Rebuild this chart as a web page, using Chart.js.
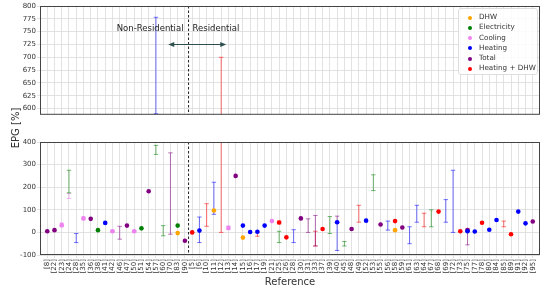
<!DOCTYPE html>
<html lang="en">
<head>
<meta charset="UTF-8">
<title>EPG by reference</title>
<script src="https://cdn.jsdelivr.net/npm/chart.js"></script>
<style>
  body { margin: 0; background: #fff; font-family: "DejaVu Sans", sans-serif; }
  #wrap { position: relative; width: 550px; height: 288px; overflow: hidden; }
  #topBox { position: absolute; left: 0; top: 0; width: 550px; height: 120px; }
  #botBox { position: absolute; left: 0; top: 120px; width: 550px; height: 168px; }
  #ytitle { position: absolute; left: -16px; top: 122px; width: 64px; text-align: center;
            font-size: 10px; line-height: 12px; color: #333; transform: rotate(-90deg); }
  #legend { position: absolute; left: 458px; top: 8px; width: 80px; height: 67px;
            border: 1px solid #ddd; border-radius: 3px; background: rgba(255,255,255,0.85);
            font-size: 7.2px; color: #333; box-sizing: border-box; padding-top: 3px; }
  #legend div { height: 10.3px; line-height: 10.3px; padding-left: 20px; position: relative; white-space: nowrap; }
  #legend span { position: absolute; left: 9px; top: 3.5px; width: 4px; height: 4px; border-radius: 50%; }
</style>
</head>
<body>
<div id="wrap">
  <div id="topBox"><canvas id="topChart"></canvas></div>
  <div id="botBox"><canvas id="botChart"></canvas></div>
  <div id="ytitle">EPG [%]</div>
  <div id="legend"></div>
</div>
<script>
// categories (first 20 non-residential, rest residential)
const refs = ['[8]', '[22]', '[23]', '[24]', '[28]', '[35]', '[36]', '[38]', '[41]', '[42]',
  '[46]', '[47]', '[50]', '[51]', '[54]', '[57]', '[60]', '[70]', '[83]', '[90]',
  '[5]', '[6]', '[10]', '[11]', '[12]', '[13]', '[14]', '[15]', '[16]', '[17]', '[19]', '[21]',
  '[25]', '[26]', '[28]', '[30]', '[31]', '[33]', '[37]', '[39]', '[40]', '[45]', '[48]', '[49]',
  '[52]', '[53]', '[55]', '[56]', '[58]', '[59]', '[61]', '[63]', '[64]', '[67]', '[68]', '[69]',
  '[72]', '[73]', '[75]', '[77]', '[78]', '[80]', '[84]', '[85]', '[89]', '[91]', '[92]', '[95]'];

// [category index, value]  and  [category index, low, high]
const dhwPoints = [[18, -3], [23, 97], [27, -23], [48, 10]];
const dhwRanges = [];
const elecPoints = [[7, 10], [13, 18], [18, 30]];
const elecRanges = [[3, 175, 275], [15, 345, 385], [16, -15, 30], [32, -45, 5], [39, -5, 70],
  [41, -60, -40], [45, 185, 255], [53, 25, 100]];
const coolPoints = [[2, 32], [5, 62], [9, 5], [12, 5], [25, 20], [31, 50]];
const coolRanges = [[2, 25, 42], [3, 150, 172], [5, 56, 68], [9, 0, 10], [12, 0, 8], [25, 12, 28]];
const heatPoints = [[8, 42], [21, 8], [27, 30], [28, 2], [29, 3], [30, 30], [40, 45], [44, 52],
  [58, 5], [59, 4], [61, 12], [62, 55], [65, 92], [66, 40]];
const heatRanges = [[4, -45, -5], [15, 590, 778], [21, -45, 68], [23, 80, 222], [34, -45, 12],
  [40, -80, 42], [47, 10, 50], [50, -50, 25], [51, 45, 120], [55, 45, 145], [56, 0, 275]];
const totalPoints = [[0, 5], [1, 10], [6, 60], [11, 30], [14, 182], [19, -37], [26, 250],
  [35, 62], [42, 15], [46, 35], [49, 22], [58, 10], [67, 48]];
const totalRanges = [[10, -30, 27], [17, -8, 352], [36, 0, 60], [37, -60, 75], [40, 45, 72], [58, -55, 15]];
const hdPoints = [[20, 0], [32, 44], [33, -22], [38, 15], [48, 50], [54, 92], [57, 5], [60, 43], [64, -8]];
const hdRanges = [[22, 27, 127], [24, 0, 700], [29, -17, 0], [32, 38, 50], [37, -60, 5],
  [43, 45, 120], [52, 25, 85], [63, 25, 50]];

const topTicks = [600, 612.5, 625, 637.5, 650, 662.5, 675, 687.5, 700, 712.5, 725, 737.5, 750, 762.5, 775, 787.5, 800];
const splitAt = 19.5;

const series = [
  { name: 'DHW', rgb: '255,165,0', points: dhwPoints, ranges: dhwRanges },
  { name: 'Electricity', rgb: '0,128,0', points: elecPoints, ranges: elecRanges },
  { name: 'Cooling', rgb: '238,130,238', points: coolPoints, ranges: coolRanges },
  { name: 'Heating', rgb: '0,0,255', points: heatPoints, ranges: heatRanges },
  { name: 'Total', rgb: '128,0,128', points: totalPoints, ranges: totalRanges },
  { name: 'Heating + DHW', rgb: '255,0,0', points: hdPoints, ranges: hdRanges }
];

// legend (html)
document.getElementById('legend').innerHTML = series.map(s =>
  `<div><span style="background:rgb(${s.rgb})"></span>${s.name}</div>`).join('');

function makeDatasets() {
  const out = [];
  series.forEach(s => {
    const bars = [];
    s.ranges.forEach(([i, lo, hi]) => bars.push({ x: i, y: lo }, { x: i, y: hi }, { x: i, y: null }));
    out.push({
      type: 'line', label: s.name + ' range', data: bars, order: 2,
      borderColor: `rgba(${s.rgb},0.55)`, borderWidth: 1, spanGaps: false,
      pointStyle: 'line', pointRadius: 2.2, pointBorderWidth: 1,
      pointBorderColor: `rgba(${s.rgb},0.55)`, pointHoverRadius: 2.2
    });
    out.push({
      type: 'scatter', label: s.name, order: 1,
      data: s.points.map(([i, v]) => ({ x: i, y: v })),
      pointRadius: 2.3, pointHoverRadius: 2.3, borderWidth: 0,
      backgroundColor: `rgb(${s.rgb})`
    });
  });
  return out;
}

const decor = {
  id: 'decor',
  beforeDatasetsDraw(chart) {
    const { ctx, chartArea: a, scales: { x } } = chart;
    const px = x.getPixelForValue(splitAt);
    ctx.save();
    ctx.strokeStyle = '#222';
    ctx.lineWidth = 1;
    ctx.setLineDash([2.5, 2]);
    ctx.beginPath();
    ctx.moveTo(px, a.top);
    ctx.lineTo(px, a.bottom);
    ctx.stroke();
    ctx.restore();
  },
  afterDraw(chart, args, opts) {
    const { ctx, chartArea: a, scales: { x, y } } = chart;
    ctx.save();
    ctx.strokeStyle = '#444';
    ctx.lineWidth = 1;
    ctx.strokeRect(a.left + 0.5, a.top + 0.5, a.width - 1, a.height - 1);
    if (opts.labels) {
      const px = x.getPixelForValue(splitAt);
      const ty = y.getPixelForValue(755);
      ctx.fillStyle = '#222';
      ctx.font = '8.5px "DejaVu Sans"';
      ctx.textBaseline = 'middle';
      ctx.textAlign = 'right';
      ctx.fillText('Non-Residential', px - 5, ty);
      ctx.textAlign = 'left';
      ctx.fillText('Residential', px + 4, ty);
      // double-headed arrow
      const ay = Math.round(y.getPixelForValue(726)) + 0.5;
      const x1 = x.getPixelForValue(16.7), x2 = x.getPixelForValue(24.7);
      ctx.strokeStyle = '#2f4f4f';
      ctx.fillStyle = '#2f4f4f';
      ctx.beginPath();
      ctx.moveTo(x1 + 4, ay);
      ctx.lineTo(x2 - 4, ay);
      ctx.stroke();
      [[x1, 1], [x2, -1]].forEach(([hx, d]) => {
        ctx.beginPath();
        ctx.moveTo(hx, ay);
        ctx.lineTo(hx + 6 * d, ay - 2.5);
        ctx.lineTo(hx + 6 * d, ay + 2.5);
        ctx.closePath();
        ctx.fill();
      });
    }
    ctx.restore();
  }
};

const gridColor = '#dadada';

function xScale(showTicks) {
  return {
    type: 'linear', min: -1, max: 68,
    afterBuildTicks: s => { s.ticks = refs.map((r, i) => ({ value: i })); },
    afterFit: s => { s.height = showTicks ? 33 : 0; },
    ticks: {
      display: showTicks, autoSkip: false, maxRotation: 90, minRotation: 90,
      font: { size: 7, family: 'DejaVu Sans' }, color: '#333', padding: 1,
      callback: v => refs[v] ?? ''
    },
    grid: { color: gridColor, lineWidth: 0.8, drawTicks: showTicks, tickLength: 3 },
    border: { display: false },
    title: {
      display: showTicks, text: 'Reference', color: '#333',
      font: { size: 10, family: 'DejaVu Sans' }, padding: { top: 0, bottom: 0 }
    }
  };
}

function yFit(s) { s.width = 40; }

new Chart(document.getElementById('topChart'), {
  data: { datasets: makeDatasets() },
  options: {
    responsive: true, maintainAspectRatio: false, animation: false,
    layout: { padding: { top: 6, right: 10, bottom: 5, left: 0 } },
    plugins: { legend: { display: false }, tooltip: { enabled: false }, decor: { labels: true } },
    scales: {
      x: xScale(false),
      y: {
        min: 588, max: 800,
        afterBuildTicks: s => { s.ticks = topTicks.map(v => ({ value: v })); },
        afterFit: yFit,
        ticks: {
          font: { size: 7, family: 'DejaVu Sans' }, color: '#333', padding: 1,
          callback: v => (v % 25 === 0 ? v : '')
        },
        grid: { color: gridColor, lineWidth: 0.8, tickLength: 3 },
        border: { display: false }
      }
    }
  },
  plugins: [decor]
});

new Chart(document.getElementById('botChart'), {
  data: { datasets: makeDatasets() },
  options: {
    responsive: true, maintainAspectRatio: false, animation: false,
    layout: { padding: { top: 22, right: 10, bottom: 0, left: 0 } },
    plugins: { legend: { display: false }, tooltip: { enabled: false }, decor: { labels: false } },
    scales: {
      x: xScale(true),
      y: {
        min: -100, max: 400,
        afterFit: yFit,
        ticks: { stepSize: 100, font: { size: 7, family: 'DejaVu Sans' }, color: '#333', padding: 1 },
        grid: { color: gridColor, lineWidth: 0.8, tickLength: 3 },
        border: { display: false }
      }
    }
  },
  plugins: [decor]
});
</script>
</body>
</html>
